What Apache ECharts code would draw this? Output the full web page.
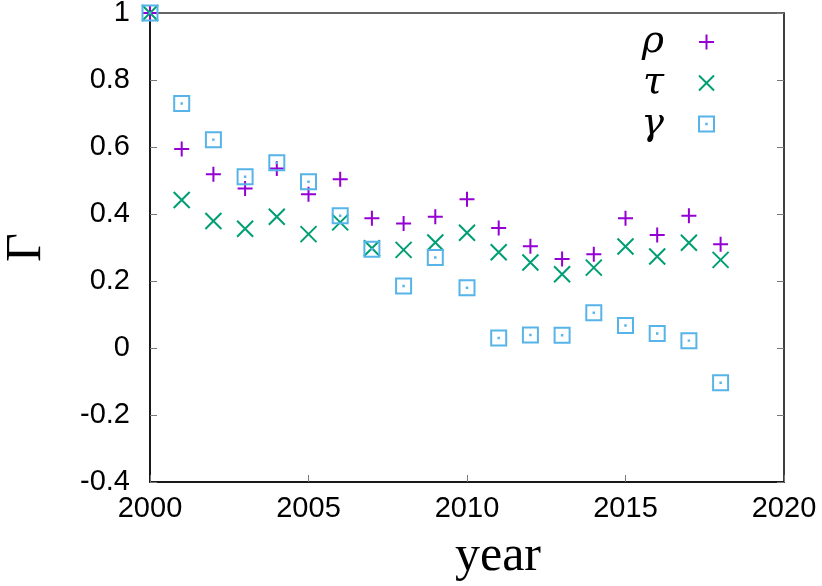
<!DOCTYPE html>
<html>
<head>
<meta charset="utf-8">
<script src="https://cdn.jsdelivr.net/npm/echarts@6/dist/echarts.min.js"></script>
<style>html,body{margin:0;padding:0;background:#fff}#c{width:822px;height:586px}</style>
</head>
<body>
<div id="c"></div>
<script>
const years = [2000,2001,2002,2003,2004,2005,2006,2007,2008,2009,2010,2011,2012,2013,2014,2015,2016,2017,2018];
const rho   = [1.0,0.594,0.519,0.476,0.536,0.459,0.504,0.387,0.372,0.392,0.444,0.358,0.304,0.266,0.280,0.387,0.337,0.395,0.310];
const tau   = [1.0,0.442,0.379,0.356,0.392,0.340,0.375,0.298,0.293,0.315,0.344,0.286,0.255,0.220,0.240,0.303,0.273,0.314,0.263];
const gamma = [1.0,0.730,0.622,0.511,0.553,0.496,0.395,0.295,0.185,0.270,0.180,0.030,0.039,0.038,0.105,0.067,0.043,0.022,-0.104];
const seriesNames = ['ρ','τ','γ'];
const colors = ['#9400d3','#009e73','#56b4e9'];

const plusPath = 'path://M0,5L10,5M5,0L5,10';
const crossPath = 'path://M0,0L10,10M10,0L0,10';
const squarePath = 'path://M0,0L10,0L10,10L0,10ZM4.85,4.85L5.15,4.85L5.15,5.15L4.85,5.15Z';
const symbols = [plusPath, crossPath, squarePath];
const sizes = [15, 16, 15];
const datas = [rho, tau, gamma];

const chart = echarts.init(document.getElementById('c'), null, {renderer:'canvas'});
const series = datas.map((d, i) => ({
  name: seriesNames[i],
  type: 'scatter',
  clip: false,
  symbol: symbols[i],
  symbolSize: sizes[i],
  data: years.map((y, k) => [y, d[k]]),
  itemStyle: {color: 'rgba(0,0,0,0)', borderColor: colors[i], borderWidth: 2, opacity: 1},
  emphasis: {disabled: true},
  z: 3 + i
}));

chart.setOption({
  animation: false,
  backgroundColor: '#fff',
  grid: {left: 150, right: 38, top: 13, bottom: 104, show: true, borderColor: '#333', borderWidth: 1.5, backgroundColor: 'transparent', outerBoundsMode: 'none', containLabel: false},
  legend: {
    orient: 'vertical', right: 102, top: 18, align: 'right', itemGap: 3,
    itemWidth: 15, itemHeight: 15,
    data: seriesNames.map((n, i) => ({name: n, icon: symbols[i], itemStyle: {color: 'rgba(0,0,0,0)', borderColor: colors[i], borderWidth: 2}})),
    textStyle: {fontFamily: 'DejaVu Serif', fontStyle: 'italic', fontSize: 38, color: '#000', padding: [0, 30, 0, 0], lineHeight: 37},
    selectedMode: false
  },
  xAxis: {
    type: 'value', min: 2000, max: 2020, interval: 5,
    name: 'year', nameLocation: 'middle', nameGap: 50,
    nameTextStyle: {fontFamily: 'Liberation Serif', fontSize: 50, color: '#000', padding: [0, 0, 0, 62]},
    axisLine: {show: true, onZero: false, lineStyle: {color: '#000', width: 1.5}},
    axisTick: {show: true, inside: true, length: 7, lineStyle: {color: '#777', width: 1}},
    axisLabel: {fontFamily: 'Liberation Sans', fontSize: 29, color: '#000', margin: 12, formatter: v => String(v)},
    splitLine: {show: false}
  },
  yAxis: [{
    type: 'value', min: -0.4, max: 1, interval: 0.2,
    name: 'Γ', nameLocation: 'middle', nameGap: 98, nameRotate: 90,
    nameTextStyle: {fontFamily: 'Liberation Serif', fontSize: 50, color: '#000'},
    axisLine: {show: true, onZero: false, lineStyle: {color: '#000', width: 1.5}},
    axisTick: {show: true, inside: true, length: 7, lineStyle: {color: '#777', width: 1}},
    axisLabel: {fontFamily: 'Liberation Sans', fontSize: 29, color: '#000', margin: 20,
      formatter: v => { const r = Math.round(v*10)/10; return r === 0 ? '0' : (Number.isInteger(r) ? String(r) : r.toFixed(1)); }},
    splitLine: {show: false}
  }, {
    type: 'value', min: -0.4, max: 1, interval: 0.2, position: 'right',
    axisLine: {show: true, onZero: false, lineStyle: {color: '#333', width: 1.5}},
    axisTick: {show: true, inside: true, length: 7, lineStyle: {color: '#777', width: 1}},
    axisLabel: {show: false},
    splitLine: {show: false}
  }],
  series: series
});
</script>
</body>
</html>
